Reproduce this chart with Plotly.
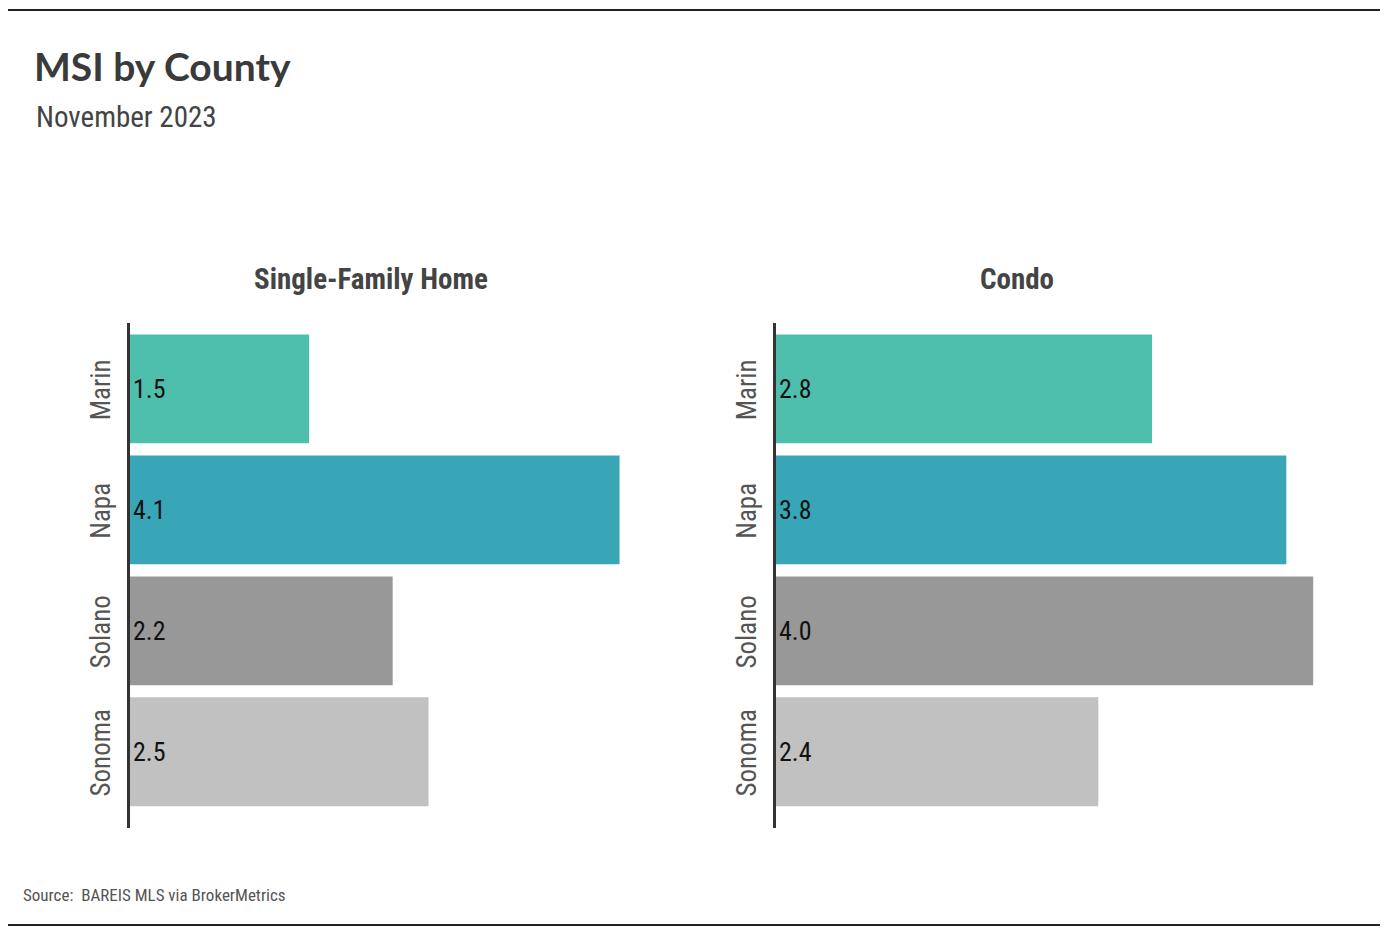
import plotly.graph_objects as go

counties = ["Marin", "Napa", "Solano", "Sonoma"]
sfh_values = [1.5, 4.1, 2.2, 2.5]
condo_values = [2.8, 3.8, 4.0, 2.4]
bar_colors = ["#4EBFAD", "#38A6B6", "#989898", "#C1C1C1"]
panel_titles = ["Single-Family Home", "Condo"]

OFF = 8  # page body margin
W, H = 1390 - OFF, 936 - OFF
NARROW = "Liberation Sans Narrow, Roboto Condensed, Arial Narrow, sans-serif"

def px(x):
    return (x - OFF) / W

def py(y):
    return 1 - (y - OFF) / H

fig = go.Figure()

fig.add_trace(go.Bar(
    y=counties, x=sfh_values, orientation="h",
    marker=dict(color=bar_colors, line=dict(width=0)),
    text=[f"{v:.1f}" for v in sfh_values], textposition="inside",
    insidetextanchor="start", textfont=dict(family=NARROW, size=26, color="#111"),
    xaxis="x", yaxis="y", hoverinfo="skip", width=0.9,
))
fig.add_trace(go.Bar(
    y=counties, x=condo_values, orientation="h",
    marker=dict(color=bar_colors, line=dict(width=0)),
    text=[f"{v:.1f}" for v in condo_values], textposition="inside",
    insidetextanchor="start", textfont=dict(family=NARROW, size=26, color="#111"),
    xaxis="x2", yaxis="y2", hoverinfo="skip", width=0.9,
))

yr = [3.63, -0.545]
ycommon = dict(
    type="category", categoryorder="array", categoryarray=counties,
    range=yr, showline=True, linecolor="#333", linewidth=3,
    ticks="", showgrid=False, zeroline=False, tickangle=-90,
    tickfont=dict(family=NARROW, size=27, color="#555"), ticklabelstandoff=6,
    ticklabelshift=-5,
    domain=[py(828), py(323)],
)
xcommon = dict(visible=False, showgrid=False, zeroline=False)

fig.update_layout(
    width=W, height=H,
    margin=dict(l=0, r=0, t=0, b=0),
    paper_bgcolor="white", plot_bgcolor="white",
    showlegend=False, bargap=0.1,
    xaxis=dict(xcommon, domain=[px(130), px(640)], range=[0, 510 / 119.4], anchor="y"),
    yaxis=dict(ycommon, anchor="x"),
    xaxis2=dict(xcommon, domain=[px(776), px(1335)], range=[0, 559 / 134.3], anchor="y2"),
    yaxis2=dict(ycommon, anchor="x2"),
    font=dict(family=NARROW),
)

fig.add_annotation(text="<b>MSI by County</b>", x=px(32), y=py(66), xref="paper", yref="paper",
                   xanchor="left", yanchor="middle", showarrow=False,
                   font=dict(family="Lato, Noto Sans, sans-serif", size=39, color="#3a3a3a"))
fig.add_annotation(text="November 2023", x=px(34), y=py(117), xref="paper", yref="paper",
                   xanchor="left", yanchor="middle", showarrow=False,
                   font=dict(family=NARROW, size=29, color="#444"))
fig.add_annotation(text=f"<b>{panel_titles[0]}</b>", x=px(371), y=py(279), xref="paper", yref="paper",
                   xanchor="center", yanchor="middle", showarrow=False,
                   font=dict(family=NARROW, size=29, color="#444"))
fig.add_annotation(text=f"<b>{panel_titles[1]}</b>", x=px(1017), y=py(279), xref="paper", yref="paper",
                   xanchor="center", yanchor="middle", showarrow=False,
                   font=dict(family=NARROW, size=29, color="#444"))
fig.add_annotation(text="Source:  BAREIS MLS via BrokerMetrics", x=px(21), y=py(895), xref="paper", yref="paper",
                   xanchor="left", yanchor="middle", showarrow=False,
                   font=dict(family=NARROW, size=17, color="#555"))

fig.add_shape(type="line", xref="paper", yref="paper", x0=px(5), x1=px(1380), y0=py(10), y1=py(10),
              line=dict(color="#222", width=2))
fig.add_shape(type="line", xref="paper", yref="paper", x0=px(5), x1=px(1380), y0=py(925), y1=py(925),
              line=dict(color="#222", width=2))

fig.write_html("out.html")
